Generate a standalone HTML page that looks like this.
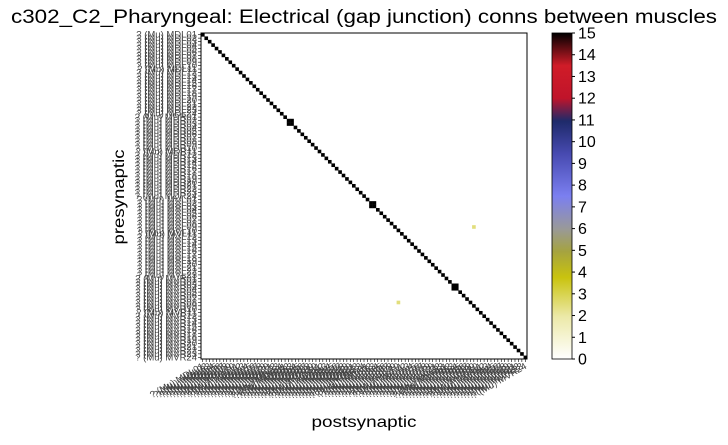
<!DOCTYPE html>
<html><head><meta charset="utf-8"><style>
body{margin:0;background:#fff;width:728px;height:440px;overflow:hidden;font-family:"Liberation Sans","DejaVu Sans",sans-serif}
</style></head><body>
<svg id="chart" width="728" height="440" xmlns="http://www.w3.org/2000/svg">
<defs>
<linearGradient id="cmap" x1="0" y1="1" x2="0" y2="0">
<stop offset="0" stop-color="#ffffff"/>
<stop offset="0.13" stop-color="#ece9a8"/>
<stop offset="0.25" stop-color="#c9c30e"/>
<stop offset="0.33" stop-color="#a5a340"/>
<stop offset="0.4" stop-color="#999999"/>
<stop offset="0.5" stop-color="#7b7ff0"/>
<stop offset="0.63" stop-color="#474ab0"/>
<stop offset="0.73" stop-color="#1e2a6a"/>
<stop offset="0.8" stop-color="#c0142a"/>
<stop offset="0.9" stop-color="#d01c28"/>
<stop offset="1" stop-color="#000000"/>
</linearGradient>
</defs>
<text x="364" y="23" font-size="19" text-anchor="middle" textLength="706" lengthAdjust="spacingAndGlyphs">c302_C2_Pharyngeal: Electrical (gap junction) conns between muscles</text>
<g id="cells"></g>
<rect x="201" y="33" width="326" height="326" fill="none" stroke="#000" stroke-width="1"/>
<g id="ticks"></g>
<text transform="translate(124,197) rotate(-90)" font-size="16" text-anchor="middle" textLength="95" lengthAdjust="spacingAndGlyphs">presynaptic</text>
<text x="364" y="427" font-size="16" text-anchor="middle" textLength="105" lengthAdjust="spacingAndGlyphs">postsynaptic</text>
<rect x="552" y="33" width="20" height="326" fill="url(#cmap)" stroke="#000" stroke-width="0.8"/>
<g id="cbticks"></g>
</svg>
<script>
const groups=['MDL','MDR','MVL','MVR'];
const groupSizes=[24,24,23,24];
const diagValue=15;
const extraRows=[25,26,49,50,73,74];
const extraCols=[26,25,50,49,74,73];
const extraVals=[15,15,15,15,15,15];
const offRows=[56,78];
const offCols=[79,57];
const offVals=[2.5,2.5];
const cbTicks=[0,1,2,3,4,5,6,7,8,9,10,11,12,13,14,15];
const vmax=15;
const names=[];groups.forEach((g,i)=>{for(let k=1;k<=groupSizes[i];k++)names.push(g+String(k).padStart(2,'0'));});
const N=names.length,X0=201,Y0=33,W=326,s=W/N;
const xs=i=>X0+i*s, ys=i=>Y0+i*s;
function color(v){const st=[[0,[255,255,255]],[2,[236,233,168]],[3.75,[201,195,14]],[5,[165,163,64]],[6,[153,153,153]],[7.5,[123,127,240]],[9.5,[71,74,176]],[11,[30,42,106]],[12,[192,20,42]],[13.5,[208,28,40]],[15,[0,0,0]]];
for(let i=1;i<st.length;i++){if(v<=st[i][0]){const a=st[i-1],b=st[i],t=(v-a[0])/(b[0]-a[0]);return 'rgb('+a[1].map((c,j)=>Math.round(c+(b[1][j]-c)*t)).join(',')+')';}}return '#000';}
const NS='http://www.w3.org/2000/svg',cells=document.getElementById('cells');
function cell(r,c,v){const e=document.createElementNS(NS,'rect');e.setAttribute('x',xs(c));e.setAttribute('y',ys(r));e.setAttribute('width',s+0.2);e.setAttribute('height',s+0.2);e.setAttribute('fill',color(v));


cells.appendChild(e);}
for(let i=0;i<N;i++)cell(i,i,diagValue);
extraRows.forEach((r,i)=>cell(r,extraCols[i],extraVals[i]));
offRows.forEach((r,i)=>cell(r,offCols[i],offVals[i]));
const tk=document.getElementById('ticks');
names.forEach((n,i)=>{
const l=document.createElementNS(NS,'line');l.setAttribute('x1',X0-3);l.setAttribute('x2',X0);l.setAttribute('y1',ys(i+0.5));l.setAttribute('y2',ys(i+0.5));l.setAttribute('stroke','#000');l.setAttribute('stroke-width','0.6');


tk.appendChild(l);
const t=document.createElementNS(NS,'text');t.setAttribute('x',X0-4);t.setAttribute('y',ys(i+0.5)+3);t.setAttribute('font-size','9.5');t.setAttribute('text-anchor','end');t.setAttribute('fill','#444');t.textContent='? (Mu) '+n;


tk.appendChild(t);
const l2=document.createElementNS(NS,'line');l2.setAttribute('x1',xs(i+0.5));l2.setAttribute('x2',xs(i+0.5));l2.setAttribute('y1',Y0+W);l2.setAttribute('y2',Y0+W+3);l2.setAttribute('stroke','#000');l2.setAttribute('stroke-width','0.6');


tk.appendChild(l2);
const t2=document.createElementNS(NS,'text');t2.setAttribute('transform','translate('+(xs(i+0.5)+2)+','+(Y0+W+9)+') rotate(-30)');t2.setAttribute('font-size','9.5');t2.setAttribute('text-anchor','end');t2.setAttribute('fill','#444');t2.textContent='? (Mu) '+n;


tk.appendChild(t2);
});
const cb=document.getElementById('cbticks');
cbTicks.forEach(v=>{const y=Y0+W-v/vmax*W;
const l=document.createElementNS(NS,'line');l.setAttribute('x1',572);l.setAttribute('x2',575);l.setAttribute('y1',y);l.setAttribute('y2',y);l.setAttribute('stroke','#000');


cb.appendChild(l);
const t=document.createElementNS(NS,'text');t.setAttribute('x',578);t.setAttribute('y',y+5.5);t.setAttribute('font-size','16');t.textContent=v;


cb.appendChild(t);});
</script>
</body></html>
